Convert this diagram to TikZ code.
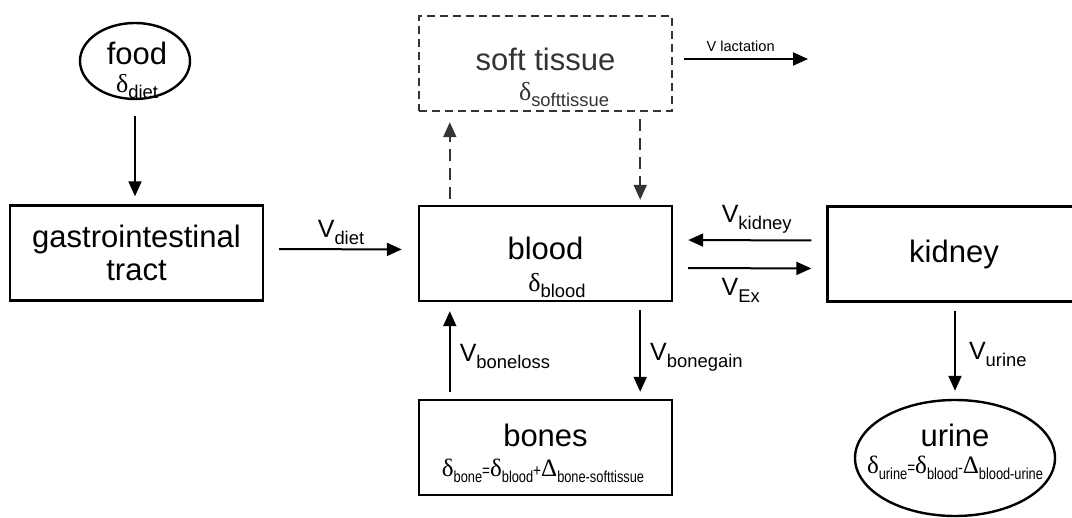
\documentclass[tikz,border=0pt]{standalone}
\usepackage{fontspec}
\setmainfont{Liberation Sans}
\newfontfamily\greekfont{Liberation Serif}
\newfontfamily\narrowfont[FakeStretch=0.8]{Liberation Sans}
\usetikzlibrary{arrows.meta, positioning, calc, shapes}
\definecolor{tissuegray}{RGB}{52,52,52}

\newcommand{\flux}[1]{\fontsize{12.5}{12.5}\selectfont V\raisebox{-3.5pt}{\fontsize{9.2}{9.2}\selectfont #1}}
\newcommand{\dval}[1]{{\greekfont\fontsize{13}{13}\selectfont δ}\raisebox{-3pt}{\fontsize{9.2}{9.2}\selectfont #1}}
\newcommand{\gsym}[1]{{\greekfont\fontsize{12.5}{12.5}\selectfont #1}}
\newcommand{\nsub}[1]{\raisebox{-3pt}{\narrowfont\fontsize{8}{8}\selectfont #1}}
\newcommand{\nop}[1]{{\narrowfont\fontsize{8.5}{8.5}\selectfont #1}}

\begin{document}
\begin{tikzpicture}[x=0.5pt, y=-0.5pt,
  box/.style={draw, line width=1.2pt, minimum width=126.5pt, minimum height=47.5pt,
              inner sep=0pt},
  pool/.style={draw, ellipse, line width=1.2pt, inner sep=0pt},
  cmptxt/.style={font=\fontsize{15.5}{16.5}\selectfont, inner sep=0pt, align=center},
  iso/.style={inner sep=0pt},
  arr/.style={-{Triangle[length=7.5pt, width=6.5pt]}, line width=1pt},
  dasharr/.style={arr, tissuegray, dash pattern=on 6pt off 3.5pt},
  lbl/.style={inner sep=1pt}
]
\useasboundingbox (0,0) rectangle (1072,518);

% compartments
\node[pool, minimum width=55pt, minimum height=38pt] (food) at (135,61) {};
\node[cmptxt] (foodtxt) at ($(food)+(2,-8)$) {food};
\node[iso] (dietd) at ($(food)+(2,26)$) {\dval{diet}};

\node[box, cmptxt] (git) at (136.5,253) {gastrointestinal\\tract};

\node[box] (blood) at (545.5,253.5) {};
\node[cmptxt] (bloodtxt) at ($(blood)+(0,-5.5)$) {blood};
\node[iso] (bloodd) at ($(blood)+(11.5,32.5)$) {\dval{blood}};

\node[box, tissuegray, dash pattern=on 4pt off 2.5pt] (soft) at (545.5,63.5) {};
\node[cmptxt, tissuegray] (softtxt) at ($(soft)+(0,-4.5)$) {soft tissue};
\node[iso, tissuegray] (softd) at ($(soft)+(18.5,31.5)$) {\dval{softtissue}};

\node[box, cmptxt] (kidney) at (954,254) {kidney};

\node[box] (bones) at (545.5,447.5) {};
\node[cmptxt] (bonestxt) at ($(bones)+(0,-12.5)$) {bones};
\node[iso] (bonesd) at ($(bones)+(-2.5,23.5)$)
  {\gsym{δ}\nsub{bone}\nop{=}\gsym{δ}\nsub{blood}\nop{+}\gsym{Δ}\nsub{bone-softtissue}};

\node[pool, minimum width=100pt, minimum height=58pt] (urine) at (955,458) {};
\node[cmptxt] (urinetxt) at ($(urine)+(0,-23)$) {urine};
\node[iso] (urined) at ($(urine)+(0,9.5)$)
  {\gsym{δ}\nsub{urine}\nop{=}\gsym{δ}\nsub{blood}\nop{-}\gsym{Δ}\nsub{blood-urine}};

\coordinate (lact) at (808,59);

% fluxes
\draw[arr, shorten <=8pt, shorten >=4pt] (food.south) -- (food.south |- git.north);
\draw[arr, shorten <=7.5pt, shorten >=8pt] ([yshift=2pt]git.east) -- ([yshift=2pt]blood.west)
  node[lbl, midway, above=1pt] (vdiet) {\flux{diet}};
\draw[dasharr, shorten <=3pt, shorten >=5pt] ([xshift=16pt]blood.north west) -- ([xshift=16pt]soft.south west);
\draw[dasharr, shorten <=3.5pt, shorten >=2.5pt] ([xshift=-16.5pt]soft.south east) -- ([xshift=-16.5pt]blood.north east);
\draw[arr, shorten <=5.5pt] (soft.east |- lact) -- (lact)
  node[lbl, midway, above=2pt] (vlact) {\fontsize{7.3}{7.3}\selectfont V lactation};
\draw[arr, shorten <=7.5pt, shorten >=7.5pt] ([yshift=6.75pt]kidney.west) -- ([yshift=6.75pt]blood.east)
  node[lbl, midway, above=2pt, xshift=3.5pt] (vkid) {\flux{kidney}};
\draw[arr, shorten <=7.5pt, shorten >=7.5pt] ([yshift=-7.25pt]blood.east) -- ([yshift=-7.25pt]kidney.west)
  node[lbl, midway, below=3.5pt, xshift=-4.5pt] (vex) {\flux{Ex}};
\draw[arr, shorten <=3.5pt, shorten >=4.5pt] ([xshift=16pt]bones.north west) -- ([xshift=16pt]blood.south west)
  node[lbl, midway, right=3.5pt, yshift=-3pt] (vloss) {\flux{boneloss}};
\draw[arr, shorten <=4pt, shorten >=3.5pt] ([xshift=-16.5pt]blood.south east) -- ([xshift=-16.5pt]bones.north east)
  node[lbl, midway, right=3.5pt, yshift=-3.5pt] (vgain) {\flux{bonegain}};
\draw[arr, shorten <=4pt, shorten >=4pt] (kidney.south -| urine.north) -- (urine.north)
  node[lbl, midway, right=5.5pt, yshift=-2pt] (vurine) {\flux{urine}};
\end{tikzpicture}
\end{document}
